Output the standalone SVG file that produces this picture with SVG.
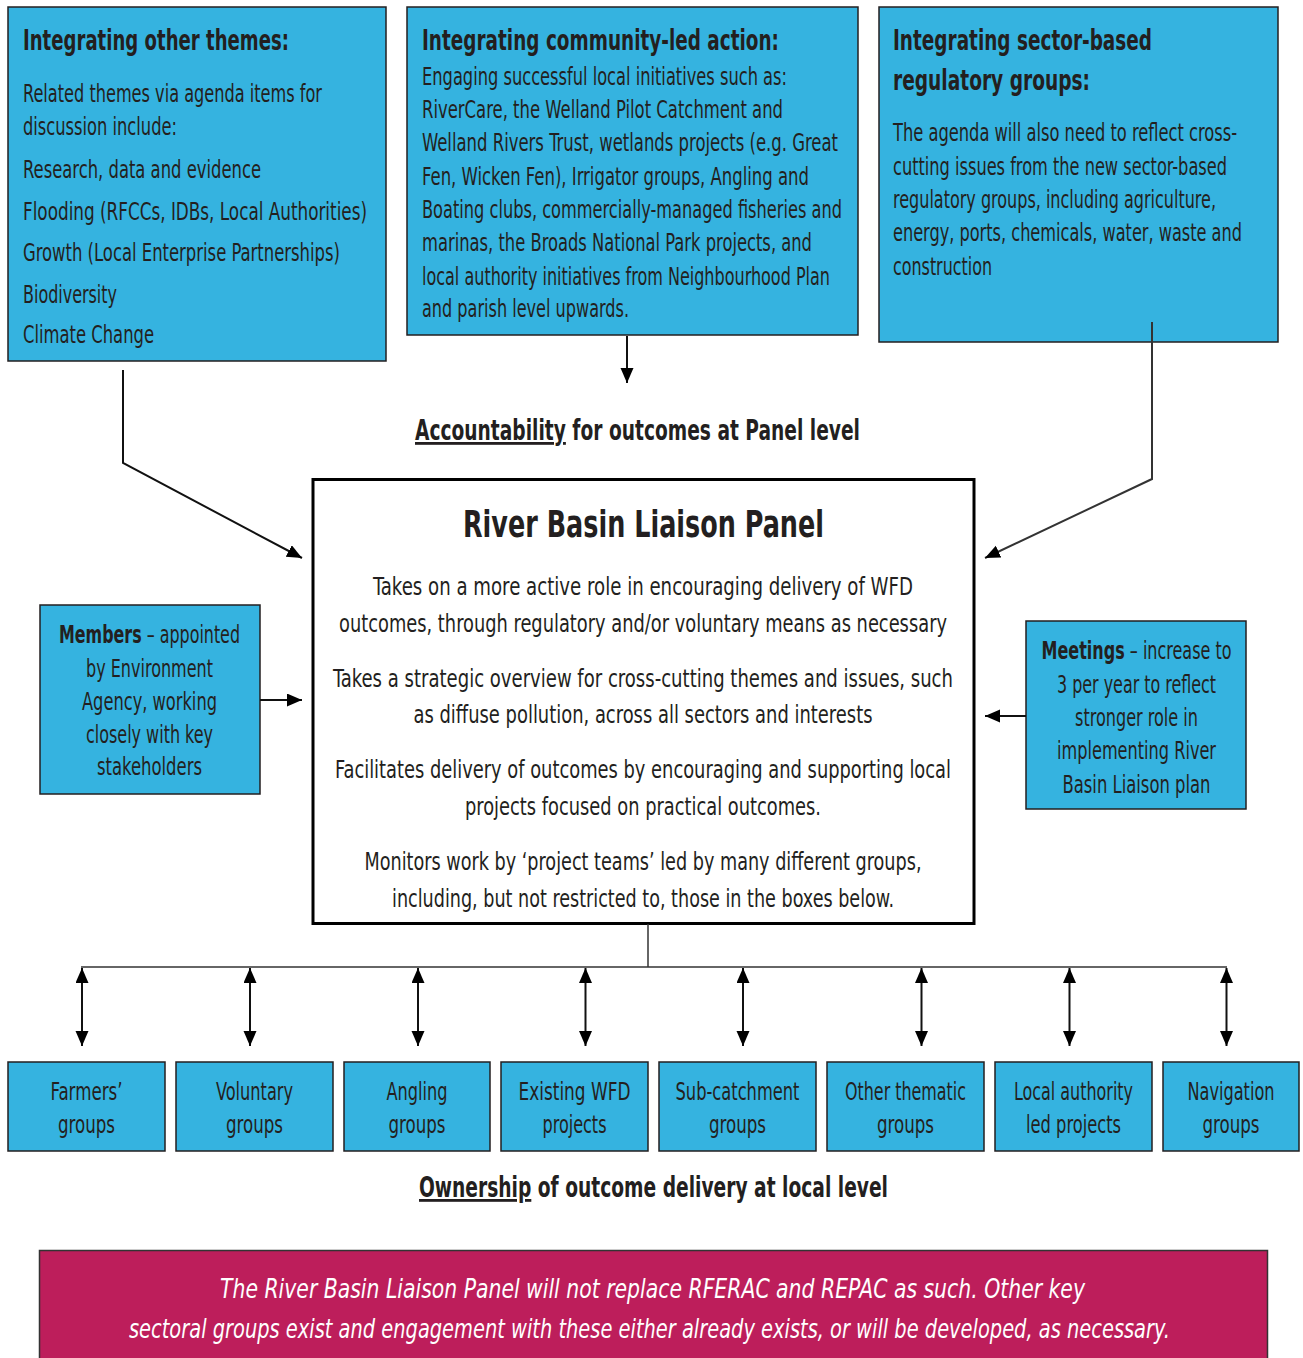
<svg xmlns="http://www.w3.org/2000/svg" width="1303" height="1358" viewBox="0 0 1303 1358">
<style>
text{font-family:"Liberation Sans Narrow","DejaVu Sans Condensed","Liberation Sans",Arial,sans-serif;fill:#231F20;}
.box{fill:#35B3E0;stroke:#231F20;stroke-width:1.5;}
.t{font-size:28px;font-weight:bold;}
.b{font-size:24px;}
.c{font-size:24px;text-anchor:middle;}
.bold{font-weight:bold;}
.ln{stroke:#111;stroke-width:2;fill:none;}
.thin{stroke:#333;stroke-width:1.5;fill:none;}
.u{text-decoration:underline;}
</style>
<defs>
<marker id="ah" markerUnits="userSpaceOnUse" markerWidth="16" markerHeight="14" refX="15" refY="6.5" orient="auto-start-reverse">
<path d="M0,0 L15,6.5 L0,13 z" fill="#000"/>
</marker>
</defs>
<rect width="1303" height="1358" fill="#fff"/>

<g id="themes">
<rect class="box" x="8" y="7" width="378" height="354"/>
<text class="t" x="23" y="50" textLength="266" lengthAdjust="spacingAndGlyphs">Integrating other themes:</text>
<text class="b" x="23" y="102" textLength="299" lengthAdjust="spacingAndGlyphs">Related themes via agenda items for</text>
<text class="b" x="23" y="135" textLength="154" lengthAdjust="spacingAndGlyphs">discussion include:</text>
<text class="b" x="23" y="178" textLength="238" lengthAdjust="spacingAndGlyphs">Research, data and evidence</text>
<text class="b" x="23" y="220" textLength="344" lengthAdjust="spacingAndGlyphs">Flooding (RFCCs, IDBs, Local Authorities)</text>
<text class="b" x="23" y="261" textLength="317" lengthAdjust="spacingAndGlyphs">Growth (Local Enterprise Partnerships)</text>
<text class="b" x="23" y="303" textLength="94" lengthAdjust="spacingAndGlyphs">Biodiversity</text>
<text class="b" x="23" y="343" textLength="131" lengthAdjust="spacingAndGlyphs">Climate Change</text>
</g>

<g id="community">
<rect class="box" x="407" y="7" width="451" height="328"/>
<text class="t" x="422" y="50" textLength="357" lengthAdjust="spacingAndGlyphs">Integrating community-led action:</text>
<text class="b" x="422" y="85" textLength="365" lengthAdjust="spacingAndGlyphs">Engaging successful local initiatives such as:</text>
<text class="b" x="422" y="118" textLength="361" lengthAdjust="spacingAndGlyphs">RiverCare, the Welland Pilot Catchment and</text>
<text class="b" x="422" y="151" textLength="416" lengthAdjust="spacingAndGlyphs">Welland Rivers Trust, wetlands projects (e.g. Great</text>
<text class="b" x="422" y="185" textLength="387" lengthAdjust="spacingAndGlyphs">Fen, Wicken Fen), Irrigator groups, Angling and</text>
<text class="b" x="422" y="218" textLength="420" lengthAdjust="spacingAndGlyphs">Boating clubs, commercially-managed fisheries and</text>
<text class="b" x="422" y="251" textLength="390" lengthAdjust="spacingAndGlyphs">marinas, the Broads National Park projects, and</text>
<text class="b" x="422" y="285" textLength="408" lengthAdjust="spacingAndGlyphs">local authority initiatives from Neighbourhood Plan</text>
<text class="b" x="422" y="317" textLength="207" lengthAdjust="spacingAndGlyphs">and parish level upwards.</text>
</g>

<g id="sector">
<rect class="box" x="879" y="7" width="399" height="335"/>
<text class="t" x="893" y="50" textLength="259" lengthAdjust="spacingAndGlyphs">Integrating sector-based</text>
<text class="t" x="893" y="90" textLength="197" lengthAdjust="spacingAndGlyphs">regulatory groups:</text>
<text class="b" x="893" y="141" textLength="344" lengthAdjust="spacingAndGlyphs">The agenda will also need to reflect cross-</text>
<text class="b" x="893" y="175" textLength="334" lengthAdjust="spacingAndGlyphs">cutting issues from the new sector-based</text>
<text class="b" x="893" y="208" textLength="323" lengthAdjust="spacingAndGlyphs">regulatory groups, including agriculture,</text>
<text class="b" x="893" y="241" textLength="349" lengthAdjust="spacingAndGlyphs">energy, ports, chemicals, water, waste and</text>
<text class="b" x="893" y="275" textLength="99" lengthAdjust="spacingAndGlyphs">construction</text>
</g>

<g id="accountability">
<text class="t" x="415" y="440" textLength="445" lengthAdjust="spacingAndGlyphs"><tspan class="u">Accountability</tspan> for outcomes at Panel level</text>
</g>

<g id="panel">
<rect x="313" y="479.5" width="661" height="444" fill="#fff" stroke="#000" stroke-width="3"/>
<text x="643.5" y="537" style="font-size:38px;font-weight:bold;text-anchor:middle" textLength="361" lengthAdjust="spacingAndGlyphs">River Basin Liaison Panel</text>
<text class="c" x="643" y="595" textLength="540" lengthAdjust="spacingAndGlyphs">Takes on a more active role in encouraging delivery of WFD</text>
<text class="c" x="643" y="632" textLength="608" lengthAdjust="spacingAndGlyphs">outcomes, through regulatory and/or voluntary means as necessary</text>
<text class="c" x="643" y="687" textLength="620" lengthAdjust="spacingAndGlyphs">Takes a strategic overview for cross-cutting themes and issues, such</text>
<text class="c" x="643" y="723" textLength="459" lengthAdjust="spacingAndGlyphs">as diffuse pollution, across all sectors and interests</text>
<text class="c" x="643" y="778" textLength="616" lengthAdjust="spacingAndGlyphs">Facilitates delivery of outcomes by encouraging and supporting local</text>
<text class="c" x="643" y="815" textLength="356" lengthAdjust="spacingAndGlyphs">projects focused on practical outcomes.</text>
<text class="c" x="643" y="870" textLength="557" lengthAdjust="spacingAndGlyphs">Monitors work by ‘project teams’ led by many different groups,</text>
<text class="c" x="643" y="907" textLength="502" lengthAdjust="spacingAndGlyphs">including, but not restricted to, those in the boxes below.</text>
</g>

<g id="members">
<rect class="box" x="40" y="605" width="220" height="189"/>
<text class="c" x="149.5" y="643" textLength="181" lengthAdjust="spacingAndGlyphs"><tspan class="bold">Members</tspan> – appointed</text>
<text class="c" x="149.5" y="677" textLength="127" lengthAdjust="spacingAndGlyphs">by Environment</text>
<text class="c" x="149.5" y="710" textLength="135" lengthAdjust="spacingAndGlyphs">Agency, working</text>
<text class="c" x="149.5" y="743" textLength="127" lengthAdjust="spacingAndGlyphs">closely with key</text>
<text class="c" x="149.5" y="775" textLength="105" lengthAdjust="spacingAndGlyphs">stakeholders</text>
</g>

<g id="meetings">
<rect class="box" x="1026" y="621" width="220" height="188"/>
<text class="c" x="1136.5" y="659" textLength="190" lengthAdjust="spacingAndGlyphs"><tspan class="bold">Meetings</tspan> – increase to</text>
<text class="c" x="1136.5" y="693" textLength="159" lengthAdjust="spacingAndGlyphs">3 per year to reflect</text>
<text class="c" x="1136.5" y="726" textLength="123" lengthAdjust="spacingAndGlyphs">stronger role in</text>
<text class="c" x="1136.5" y="759" textLength="159" lengthAdjust="spacingAndGlyphs">implementing River</text>
<text class="c" x="1136.5" y="793" textLength="148" lengthAdjust="spacingAndGlyphs">Basin Liaison plan</text>
</g>

<g id="farmers">
<rect class="box" x="8" y="1062" width="157" height="89"/>
<text class="c" x="86.5" y="1100" textLength="72" lengthAdjust="spacingAndGlyphs">Farmers’</text>
<text class="c" x="86.5" y="1133" textLength="57" lengthAdjust="spacingAndGlyphs">groups</text>
</g>
<g id="voluntary">
<rect class="box" x="176" y="1062" width="157" height="89"/>
<text class="c" x="254.5" y="1100" textLength="77" lengthAdjust="spacingAndGlyphs">Voluntary</text>
<text class="c" x="254.5" y="1133" textLength="57" lengthAdjust="spacingAndGlyphs">groups</text>
</g>
<g id="angling">
<rect class="box" x="344" y="1062" width="146" height="89"/>
<text class="c" x="417" y="1100" textLength="61" lengthAdjust="spacingAndGlyphs">Angling</text>
<text class="c" x="417" y="1133" textLength="57" lengthAdjust="spacingAndGlyphs">groups</text>
</g>
<g id="existing">
<rect class="box" x="501" y="1062" width="147" height="89"/>
<text class="c" x="574.5" y="1100" textLength="112" lengthAdjust="spacingAndGlyphs">Existing WFD</text>
<text class="c" x="574.5" y="1133" textLength="64" lengthAdjust="spacingAndGlyphs">projects</text>
</g>
<g id="subcatchment">
<rect class="box" x="659" y="1062" width="157" height="89"/>
<text class="c" x="737.5" y="1100" textLength="124" lengthAdjust="spacingAndGlyphs">Sub-catchment</text>
<text class="c" x="737.5" y="1133" textLength="57" lengthAdjust="spacingAndGlyphs">groups</text>
</g>
<g id="thematic">
<rect class="box" x="827" y="1062" width="157" height="89"/>
<text class="c" x="905.5" y="1100" textLength="121" lengthAdjust="spacingAndGlyphs">Other thematic</text>
<text class="c" x="905.5" y="1133" textLength="57" lengthAdjust="spacingAndGlyphs">groups</text>
</g>
<g id="localauth">
<rect class="box" x="995" y="1062" width="157" height="89"/>
<text class="c" x="1073.5" y="1100" textLength="119" lengthAdjust="spacingAndGlyphs">Local authority</text>
<text class="c" x="1073.5" y="1133" textLength="95" lengthAdjust="spacingAndGlyphs">led projects</text>
</g>
<g id="navigation">
<rect class="box" x="1163" y="1062" width="136" height="89"/>
<text class="c" x="1231" y="1100" textLength="87" lengthAdjust="spacingAndGlyphs">Navigation</text>
<text class="c" x="1231" y="1133" textLength="57" lengthAdjust="spacingAndGlyphs">groups</text>
</g>

<g id="ownership">
<text class="t" x="419" y="1197" textLength="469" lengthAdjust="spacingAndGlyphs"><tspan class="u">Ownership</tspan> of outcome delivery at local level</text>
</g>

<g id="note">
<rect x="39.5" y="1250.5" width="1228" height="120" fill="#BD1E5B" stroke="#333" stroke-width="1.5"/>
<text x="652.5" y="1298" style="font-size:27px;font-style:italic;fill:#fff;text-anchor:middle" textLength="865" lengthAdjust="spacingAndGlyphs">The River Basin Liaison Panel will not replace RFERAC and REPAC as such. Other key</text>
<text x="649.5" y="1338" style="font-size:27px;font-style:italic;fill:#fff;text-anchor:middle" textLength="1041" lengthAdjust="spacingAndGlyphs">sectoral groups exist and engagement with these either already exists, or will be developed, as necessary.</text>
</g>

<g id="connectors">
<polyline class="ln" points="123,370 123,463 302,558" marker-end="url(#ah)"/>
<line class="ln" x1="627" y1="336" x2="627" y2="383" marker-end="url(#ah)"/>
<polyline class="thin" points="1152,322 1152,479 985,558" marker-end="url(#ah)" style="stroke-width:2"/>
<line class="ln" x1="260" y1="700" x2="302" y2="700" marker-end="url(#ah)"/>
<line class="ln" x1="1026" y1="716" x2="985" y2="716" marker-end="url(#ah)"/>
<line class="thin" x1="648" y1="924" x2="648" y2="967"/>
<line class="thin" x1="81" y1="967" x2="1227" y2="967"/>
<line class="ln" x1="82" y1="968" x2="82" y2="1046" marker-start="url(#ah)" marker-end="url(#ah)"/>
<line class="ln" x1="250" y1="968" x2="250" y2="1046" marker-start="url(#ah)" marker-end="url(#ah)"/>
<line class="ln" x1="418" y1="968" x2="418" y2="1046" marker-start="url(#ah)" marker-end="url(#ah)"/>
<line class="ln" x1="585.5" y1="968" x2="585.5" y2="1046" marker-start="url(#ah)" marker-end="url(#ah)"/>
<line class="ln" x1="743" y1="968" x2="743" y2="1046" marker-start="url(#ah)" marker-end="url(#ah)"/>
<line class="ln" x1="921.5" y1="968" x2="921.5" y2="1046" marker-start="url(#ah)" marker-end="url(#ah)"/>
<line class="ln" x1="1069.5" y1="968" x2="1069.5" y2="1046" marker-start="url(#ah)" marker-end="url(#ah)"/>
<line class="ln" x1="1226.5" y1="968" x2="1226.5" y2="1046" marker-start="url(#ah)" marker-end="url(#ah)"/>
</g>
</svg>
